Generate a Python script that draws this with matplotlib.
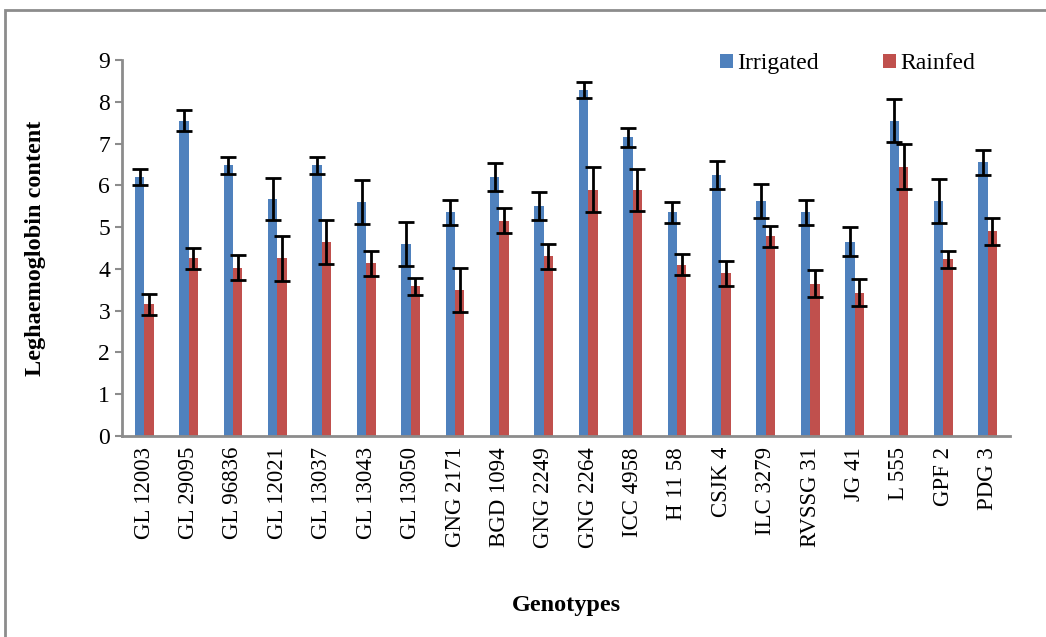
"""Leghaemoglobin content of chickpea genotypes, irrigated vs rainfed."""

import numpy as np
from matplotlib import pyplot as plt
from matplotlib.patches import Rectangle

genotypes = [
    "GL 12003", "GL 29095", "GL 96836", "GL 12021", "GL 13037",
    "GL 13043", "GL 13050", "GNG 2171", "BGD 1094", "GNG 2249",
    "GNG 2264", "ICC 4958", "H 11 58", "CSJK 4", "ILC 3279",
    "RVSSG 31", "JG 41", "L 555", "GPF 2", "PDG 3",
]
irrigated = [6.2, 7.55, 6.48, 5.68, 6.48, 5.6, 4.6, 5.35, 6.2, 5.5,
             8.28, 7.15, 5.35, 6.25, 5.63, 5.35, 4.65, 7.55, 5.63, 6.55]
irrigated_err = [0.2, 0.25, 0.2, 0.5, 0.2, 0.52, 0.52, 0.3, 0.33, 0.33,
                 0.2, 0.23, 0.25, 0.33, 0.4, 0.3, 0.35, 0.52, 0.52, 0.3]
rainfed = [3.15, 4.25, 4.03, 4.25, 4.65, 4.13, 3.58, 3.5, 5.15, 4.3,
           5.9, 5.88, 4.1, 3.9, 4.78, 3.65, 3.43, 6.45, 4.23, 4.9]
rainfed_err = [0.25, 0.25, 0.3, 0.53, 0.53, 0.3, 0.2, 0.53, 0.3, 0.3,
               0.53, 0.5, 0.25, 0.3, 0.25, 0.33, 0.33, 0.53, 0.2, 0.33]

plt.rcParams["font.family"] = ["Liberation Serif", "DejaVu Serif"]

fig = plt.figure(figsize=(10.46, 6.37), dpi=100)
ax = fig.add_axes([122 / 1046, 1 - 436 / 637, (1010 - 122) / 1046, (436 - 60) / 637])

# outer chart frame (left and top edges visible)
fig.patches.append(Rectangle((5 / 1046, -0.1), 1.2, 1 - 10 / 637 + 0.1,
                             transform=fig.transFigure, fill=False,
                             edgecolor="#8c8c8c", linewidth=2))

x = np.arange(len(genotypes))
w = 0.21
err_kw = dict(ecolor="black", elinewidth=2, capsize=5.5, capthick=2)
ax.bar(x - w / 2, irrigated, w, yerr=irrigated_err, color="#4f81bd",
       label="Irrigated", error_kw=err_kw)
ax.bar(x + w / 2, rainfed, w, yerr=rainfed_err, color="#c0504d",
       label="Rainfed", error_kw=err_kw)

ax.set_xlim(-0.5, len(genotypes) - 0.5)
ax.set_ylim(0, 9)
ax.set_yticks(range(10))
ax.set_xticks(x)
ax.set_xticklabels(genotypes, rotation=90, fontsize=16.5)
ax.tick_params(axis="y", labelsize=17, color="#8c8c8c", length=5, width=1.5)
ax.tick_params(axis="x", length=0, pad=8)
for side in ("top", "right"):
    ax.spines[side].set_visible(False)
for side in ("left", "bottom"):
    ax.spines[side].set_color("#8c8c8c")
    ax.spines[side].set_linewidth(2)

ax.set_ylabel("Leghaemoglobin content", fontsize=17.5, fontweight="bold")
ax.yaxis.set_label_coords(-76 / 888, 0.5)
fig.text(566 / 1046, 1 - 605 / 637, "Genotypes", fontsize=17.5, fontweight="bold",
         ha="center", va="center")

ax.legend(loc="upper right", bbox_to_anchor=(0.985, 1.075), ncol=2, frameon=False,
          fontsize=17, handlelength=0.55, handleheight=0.55, columnspacing=2.7,
          handletextpad=0.2)

plt.savefig("out.png", dpi=100)
